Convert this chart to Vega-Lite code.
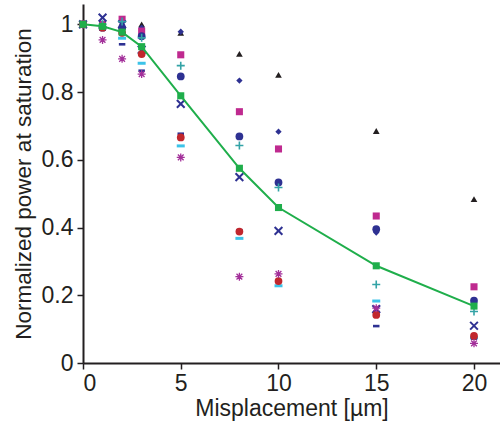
{
  "$schema": "https://vega.github.io/schema/vega-lite/v6.json",
  "autosize": {"type": "none"},
  "width": 417,
  "height": 359,
  "padding": {"left": 83, "top": 4, "right": 0, "bottom": 61},
  "background": "white",
  "config": {
    "view": {"stroke": null},
    "axis": {
      "labelFont": "Liberation Sans",
      "titleFont": "Liberation Sans",
      "labelFontSize": 23,
      "titleFontSize": 23,
      "titleFontWeight": "normal",
      "labelColor": "#231f20",
      "titleColor": "#231f20",
      "domainColor": "#231f20",
      "domainWidth": 2,
      "tickColor": "#231f20",
      "tickWidth": 1.5,
      "tickSize": 6,
      "grid": false
    }
  },
  "datasets": {
    "pts": [
      {"series": "tri", "x": 0, "y": 1.0}, {"series": "tri", "x": 1, "y": 1.0}, {"series": "tri", "x": 2, "y": 1.0}, {"series": "tri", "x": 3, "y": 1.0}, {"series": "tri", "x": 5, "y": 0.975}, {"series": "tri", "x": 8, "y": 0.913}, {"series": "tri", "x": 10, "y": 0.851}, {"series": "tri", "x": 15, "y": 0.685}, {"series": "tri", "x": 20, "y": 0.484},
      {"series": "dia", "x": 0, "y": 1.0}, {"series": "dia", "x": 1, "y": 1.0}, {"series": "dia", "x": 2, "y": 1.0}, {"series": "dia", "x": 3, "y": 0.99}, {"series": "dia", "x": 5, "y": 0.978}, {"series": "dia", "x": 8, "y": 0.834}, {"series": "dia", "x": 10, "y": 0.683}, {"series": "dia", "x": 15, "y": 0.385}, {"series": "dia", "x": 20, "y": 0.175},
      {"series": "sq", "x": 0, "y": 1.0}, {"series": "sq", "x": 1, "y": 1.0}, {"series": "sq", "x": 2, "y": 1.015}, {"series": "sq", "x": 3, "y": 0.98}, {"series": "sq", "x": 5, "y": 0.91}, {"series": "sq", "x": 8, "y": 0.742}, {"series": "sq", "x": 10, "y": 0.632}, {"series": "sq", "x": 15, "y": 0.434}, {"series": "sq", "x": 20, "y": 0.225},
      {"series": "circ", "x": 0, "y": 1.0}, {"series": "circ", "x": 1, "y": 0.99}, {"series": "circ", "x": 2, "y": 0.99}, {"series": "circ", "x": 3, "y": 0.965}, {"series": "circ", "x": 5, "y": 0.846}, {"series": "circ", "x": 8, "y": 0.669}, {"series": "circ", "x": 10, "y": 0.533}, {"series": "circ", "x": 15, "y": 0.395}, {"series": "circ", "x": 20, "y": 0.184},
      {"series": "x", "x": 0, "y": 1.0}, {"series": "x", "x": 1, "y": 1.02}, {"series": "x", "x": 2, "y": 1.0}, {"series": "x", "x": 3, "y": 0.925}, {"series": "x", "x": 5, "y": 0.765}, {"series": "x", "x": 8, "y": 0.549}, {"series": "x", "x": 10, "y": 0.39}, {"series": "x", "x": 15, "y": 0.159}, {"series": "x", "x": 20, "y": 0.11},
      {"series": "plus", "x": 0, "y": 1.0}, {"series": "plus", "x": 1, "y": 1.0}, {"series": "plus", "x": 2, "y": 1.008}, {"series": "plus", "x": 3, "y": 0.96}, {"series": "plus", "x": 5, "y": 0.878}, {"series": "plus", "x": 8, "y": 0.642}, {"series": "plus", "x": 10, "y": 0.518}, {"series": "plus", "x": 15, "y": 0.232}, {"series": "plus", "x": 20, "y": 0.152},
      {"series": "cdash", "x": 0, "y": 1.0}, {"series": "cdash", "x": 1, "y": 0.99}, {"series": "cdash", "x": 2, "y": 0.959}, {"series": "cdash", "x": 3, "y": 0.885}, {"series": "cdash", "x": 5, "y": 0.641}, {"series": "cdash", "x": 8, "y": 0.368}, {"series": "cdash", "x": 10, "y": 0.228}, {"series": "cdash", "x": 15, "y": 0.183}, {"series": "cdash", "x": 20, "y": 0.075},
      {"series": "ndash", "x": 0, "y": 1.0}, {"series": "ndash", "x": 1, "y": 0.984}, {"series": "ndash", "x": 2, "y": 0.941}, {"series": "ndash", "x": 3, "y": 0.863}, {"series": "ndash", "x": 5, "y": 0.677}, {"series": "ndash", "x": 8, "y": 0.392}, {"series": "ndash", "x": 10, "y": 0.24}, {"series": "ndash", "x": 15, "y": 0.109}, {"series": "ndash", "x": 20, "y": 0.072},
      {"series": "red", "x": 0, "y": 1.0}, {"series": "red", "x": 1, "y": 0.99}, {"series": "red", "x": 2, "y": 0.975}, {"series": "red", "x": 3, "y": 0.912}, {"series": "red", "x": 5, "y": 0.666}, {"series": "red", "x": 8, "y": 0.388}, {"series": "red", "x": 10, "y": 0.242}, {"series": "red", "x": 15, "y": 0.142}, {"series": "red", "x": 20, "y": 0.08},
      {"series": "ast", "x": 0, "y": 1.0}, {"series": "ast", "x": 1, "y": 0.954}, {"series": "ast", "x": 2, "y": 0.898}, {"series": "ast", "x": 3, "y": 0.853}, {"series": "ast", "x": 5, "y": 0.607}, {"series": "ast", "x": 8, "y": 0.255}, {"series": "ast", "x": 10, "y": 0.263}, {"series": "ast", "x": 15, "y": 0.162}, {"series": "ast", "x": 20, "y": 0.058}
    ],
    "mean": [
      {"x": 0, "y": 1.0}, {"x": 1, "y": 0.994}, {"x": 2, "y": 0.977}, {"x": 3, "y": 0.934}, {"x": 5, "y": 0.789}, {"x": 8, "y": 0.575}, {"x": 10, "y": 0.459}, {"x": 15, "y": 0.287}, {"x": 20, "y": 0.168}
    ]
  },
  "encoding": {
    "x": {
      "field": "x", "type": "quantitative",
      "scale": {"domain": [0, 21.33], "nice": false, "zero": false},
      "axis": {"values": [0, 5, 10, 15, 20], "title": "Misplacement [µm]", "labelPadding": 3, "titlePadding": 2}
    },
    "y": {
      "field": "y", "type": "quantitative",
      "scale": {"domain": [0, 1.06], "nice": false},
      "axis": {"values": [0, 0.2, 0.4, 0.6, 0.8, 1], "format": "~g", "title": "Normalized power at saturation", "labelPadding": 4, "titlePadding": 6, "titleFontSize": 22.5}
    }
  },
  "layer": [
    {"data": {"name": "pts"}, "transform": [{"filter": "datum.series == 'tri'"}], "mark": {"type": "point", "shape": "triangle-up", "filled": true, "color": "#231f20", "size": 45, "opacity": 1}},
    {"data": {"name": "pts"}, "transform": [{"filter": "datum.series == 'dia'"}], "mark": {"type": "point", "shape": "diamond", "filled": true, "color": "#2e3192", "size": 40, "opacity": 1}},
    {"data": {"name": "pts"}, "transform": [{"filter": "datum.series == 'sq'"}], "mark": {"type": "point", "shape": "square", "filled": true, "color": "#bf2a8f", "size": 50, "opacity": 1}},
    {"data": {"name": "pts"}, "transform": [{"filter": "datum.series == 'circ'"}], "mark": {"type": "point", "shape": "circle", "filled": true, "color": "#2e3192", "size": 60, "opacity": 1}},
    {"data": {"name": "pts"}, "transform": [{"filter": "datum.series == 'x'"}], "mark": {"type": "point", "shape": "M-1,-1L1,1M-1,1L1,-1", "filled": false, "color": "#2e3192", "size": 60, "strokeWidth": 2, "opacity": 1}},
    {"data": {"name": "pts"}, "transform": [{"filter": "datum.series == 'plus'"}], "mark": {"type": "point", "shape": "M-1,0H1M0,-1V1", "filled": false, "color": "#33a3a6", "size": 64, "strokeWidth": 1.6, "opacity": 1}},
    {"data": {"name": "pts"}, "transform": [{"filter": "datum.series == 'cdash'"}], "mark": {"type": "point", "shape": "M-1,-0.375H1V0.375H-1Z", "filled": true, "color": "#3cc3e8", "size": 64, "opacity": 1}},
    {"data": {"name": "pts"}, "transform": [{"filter": "datum.series == 'ndash'"}], "mark": {"type": "point", "shape": "M-1,-0.4H1V0.4H-1Z", "filled": true, "color": "#2e3192", "size": 42, "opacity": 1}},
    {"data": {"name": "pts"}, "transform": [{"filter": "datum.series == 'red'"}], "mark": {"type": "point", "shape": "circle", "filled": true, "color": "#c1272d", "size": 60, "opacity": 1}},
    {"data": {"name": "pts"}, "transform": [{"filter": "datum.series == 'ast'"}], "mark": {"type": "point", "shape": "M-1,0H1M0,-1V1M-0.72,-0.72L0.72,0.72M-0.72,0.72L0.72,-0.72", "filled": false, "color": "#a3309a", "size": 64, "strokeWidth": 1.3, "opacity": 1}},
    {"data": {"name": "mean"}, "mark": {"type": "line", "color": "#1fae4b", "strokeWidth": 2}},
    {"data": {"name": "mean"}, "mark": {"type": "point", "shape": "square", "filled": true, "color": "#1fae4b", "size": 50, "opacity": 1}}
  ]
}
